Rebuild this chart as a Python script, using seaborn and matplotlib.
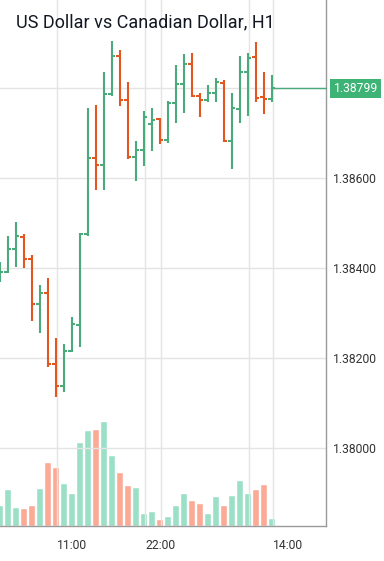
import matplotlib
matplotlib.use("Agg")
import matplotlib.pyplot as plt
import seaborn as sns
import pandas as pd
import numpy as np

title = "US Dollar vs Canadian Dollar, H1"

# hourly OHLC, oldest first
opens = [1.38382, 1.38391, 1.38442, 1.38469, 1.38420, 1.38320, 1.38344, 1.38187, 1.38138, 1.38216,
         1.38273, 1.38476, 1.38644, 1.38629, 1.38787, 1.38871, 1.38773, 1.38647, 1.38662, 1.38720,
         1.38731, 1.38684, 1.38767, 1.38809, 1.38853, 1.38782, 1.38773, 1.38789, 1.38811, 1.38682,
         1.38753, 1.38836, 1.38869, 1.38780, 1.38776]
highs = [1.38413, 1.38471, 1.38502, 1.38476, 1.38429, 1.38362, 1.38378, 1.38244, 1.38231, 1.38291,
         1.38478, 1.38756, 1.38762, 1.38836, 1.38904, 1.38884, 1.38813, 1.38682, 1.38749, 1.38756,
         1.38733, 1.38771, 1.38851, 1.38876, 1.38878, 1.38789, 1.38807, 1.38822, 1.38818, 1.38789,
         1.38871, 1.38878, 1.38902, 1.38836, 1.38829]
lows = [1.38369, 1.38389, 1.38402, 1.38400, 1.38282, 1.38256, 1.38180, 1.38113, 1.38124, 1.38213,
        1.38224, 1.38471, 1.38573, 1.38573, 1.38782, 1.38760, 1.38642, 1.38593, 1.38627, 1.38660,
        1.38676, 1.38678, 1.38722, 1.38744, 1.38780, 1.38736, 1.38769, 1.38769, 1.38680, 1.38620,
        1.38722, 1.38738, 1.38769, 1.38742, 1.38769]
closes = [1.38391, 1.38442, 1.38471, 1.38420, 1.38320, 1.38344, 1.38187, 1.38138, 1.38216, 1.38276,
          1.38476, 1.38644, 1.38629, 1.38787, 1.38871, 1.38773, 1.38647, 1.38662, 1.38736, 1.38729,
          1.38684, 1.38767, 1.38809, 1.38853, 1.38782, 1.38773, 1.38789, 1.38813, 1.38682, 1.38756,
          1.38836, 1.38867, 1.38778, 1.38776, 1.38799]
volumes = [21, 37, 19, 18, 21, 38, 64, 59, 43, 33, 84, 96, 97, 105, 71, 54, 41, 39, 13, 15,
           7, 10, 21, 33, 26, 23, 13, 30, 21, 31, 46, 33, 37, 42, 8]

time_tick_bars = [7, 18, 34]
time_tick_labels = ["11:00", "22:00", "14:00"]
grid_bars = [7, 18, 20, 31, 34]
price_ticks = [1.380, 1.382, 1.384, 1.386, 1.388]
last_price = 1.38799

green = "#4aaa7b"
red = "#e2561f"
vol_pal = {"up": "#9be0c6", "down": "#fbaa96"}

df = pd.DataFrame({"open": opens, "high": highs, "low": lows, "close": closes, "volume": volumes})
df["bar"] = np.arange(len(df))
df["dir"] = np.where(df["close"] >= df["open"], "up", "down")
bar_colors = [green if d == "up" else red for d in df["dir"]]

sns.set_theme(style="white")
plt.rcParams["font.family"] = ["Roboto", "DejaVu Sans"]

fig = plt.figure(figsize=(3.84, 5.61), dpi=100)
ax = fig.add_axes([0, 35 / 561, 326 / 384, 526 / 561])
ax_vol = ax.twinx()

# volume underneath
sns.barplot(data=df, x="bar", y="volume", hue="dir", palette=vol_pal, native_scale=True,
            width=0.875, dodge=False, legend=False, errorbar=None, saturation=1, ax=ax_vol)
ax_vol.set_ylim(0, 526)
ax_vol.set_yticks([])
ax_vol.set_ylabel("")
for s in ax_vol.spines.values():
    s.set_visible(False)

ax.set_zorder(ax_vol.get_zorder() + 1)
ax.patch.set_visible(False)

# grid
for p in price_ticks:
    ax.axhline(p, color="#e4e4e4", lw=1, zorder=0)
for b in grid_bars:
    ax.axvline(b + 0.18, color="#e4e4e4", lw=1, zorder=0)

# OHLC bars
ax.vlines(df["bar"], df["low"], df["high"], colors=bar_colors, lw=1.5, zorder=3)
ax.hlines(df["open"], df["bar"] - 0.4, df["bar"], colors=bar_colors, lw=1.5, zorder=3)
ax.hlines(df["close"], df["bar"], df["bar"] + 0.4, colors=bar_colors, lw=1.5, zorder=3)

xmax = 40.8125
ax.set_xlim(0.0625, xmax)
ax_vol.set_xlim(0.0625, xmax)
ax.set_ylim(1.378267, 1.389956)

# last price line + label
ax.plot([df["bar"].iloc[-1], xmax], [last_price, last_price], color=green, lw=1, clip_on=False, zorder=3)
ax.annotate(f"{last_price:.5f}", xy=(1, last_price), xycoords=("axes fraction", "data"),
            xytext=(5.5, 0), textcoords="offset points", ha="left", va="center",
            color="white", fontsize=8.7, annotation_clip=False,
            bbox=dict(boxstyle="square,pad=0.28", fc="#3db476", ec="none"))

ax.yaxis.tick_right()
ax.set_yticks(price_ticks)
ax.set_yticklabels([f"{p:.5f}" for p in price_ticks[:-1]] + [""])
ax.set_xticks([b + 0.18 for b in time_tick_bars])
ax.set_xticklabels(time_tick_labels, ha="left")
ax.tick_params(axis="y", length=0, pad=5, labelsize=8.7, labelcolor="#333333")
ax.tick_params(axis="x", length=0, pad=9.5, labelsize=8.7, labelcolor="#333333")
ax.set_xlabel("")
ax.set_ylabel("")

for side in ["top", "left"]:
    ax.spines[side].set_visible(False)
for side in ["right", "bottom"]:
    ax.spines[side].set_color("#9a9a9a")
    ax.spines[side].set_linewidth(1)

fig.text(16 / 384, 1 - 27.3 / 561, title, fontsize=13, color="#131722", ha="left", va="baseline")

fig.savefig("out.png", dpi=100)
